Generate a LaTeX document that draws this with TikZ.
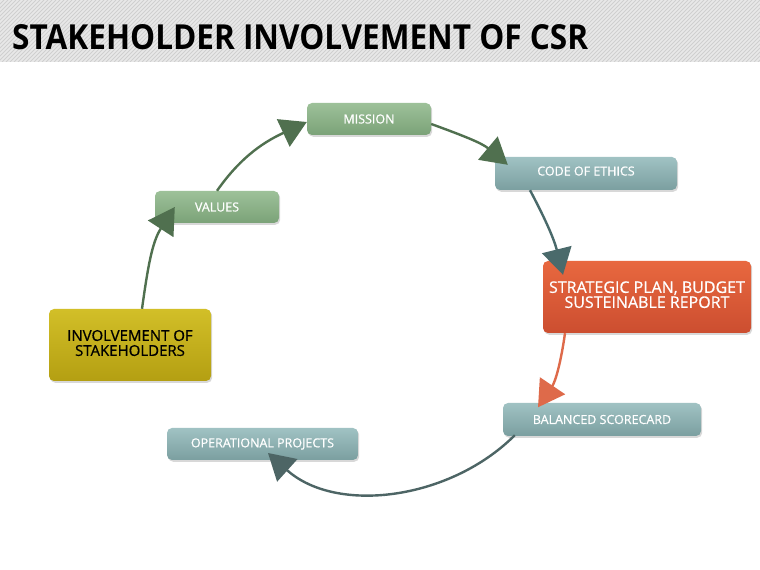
\documentclass[tikz,border=0pt]{standalone}
\usepackage{fontspec}
\setmainfont{Open Sans}
\newfontfamily\boxfont{Open Sans}[FakeBold=0.7]
\usetikzlibrary{arrows.meta,shadows}
\definecolor{bannerbg}{HTML}{E8E8E8}
\definecolor{stripe}{HTML}{CFCFCF}
\definecolor{gtop}{HTML}{9DC199}
\definecolor{gbot}{HTML}{7BA278}
\definecolor{ttop}{HTML}{A0C2C3}
\definecolor{tbot}{HTML}{7B9FA0}
\definecolor{rtop}{HTML}{E8683F}
\definecolor{rbot}{HTML}{CC4E30}
\definecolor{ytop}{HTML}{D2BF28}
\definecolor{ybot}{HTML}{B49F12}
\definecolor{agreen}{HTML}{50704F}
\definecolor{ateal}{HTML}{4A6A6B}
\definecolor{ared}{HTML}{DE6A4A}
\definecolor{agray}{HTML}{4D6565}
\tikzset{
  box/.style={rounded corners=5pt, inner sep=0pt, align=center,
    drop shadow={shadow xshift=1.2pt, shadow yshift=-1.8pt, opacity=0.3},
    font=\boxfont\fontsize{12.5}{14}\selectfont},
  gbox/.style={box, top color=gtop, bottom color=gbot, text=white},
  tbox/.style={box, top color=ttop, bottom color=tbot, text=white},
  rbox/.style={box, top color=rtop, bottom color=rbot, text=white,
    font=\boxfont\fontsize{16}{17}\selectfont},
  ybox/.style={box, top color=ytop, bottom color=ybot, text=black,
    font=\boxfont\fontsize{15}{17}\selectfont},
  conn/.style={line width=2.4pt, -{Triangle[length=26pt,width=30pt]}},
}
\begin{document}
\begin{tikzpicture}[x=1pt,y=1pt]
\useasboundingbox (0,0) rectangle (760,570);
\fill[white] (0,0) rectangle (760,570);
% banner
\begin{scope}
\clip (0,508) rectangle (760,570);
\fill[bannerbg] (0,508) rectangle (760,570);
\foreach \i in {-70,-66,...,760} \draw[stripe, line width=0.9pt] (\i,508) -- ++(62,62);
\end{scope}
\node[anchor=south west, inner sep=0pt] (title) at (12,520)
  {\resizebox{576pt}{25pt}{\bfseries STAKEHOLDER INVOLVEMENT OF CSR}};
% nodes
\node[gbox, minimum width=124pt, minimum height=32pt] (mission) at (369,451) {MISSION};
\node[gbox, minimum width=124pt, minimum height=32pt] (values) at (217,363) {VALUES};
\node[tbox, minimum width=182pt, minimum height=33pt] (code) at (586,396.5) {\raisebox{5pt}{CODE OF ETHICS}};
\node[rbox, minimum width=208pt, minimum height=72pt] (st) at (647,273)
  {\raisebox{7pt}{\begin{tabular}{@{}c@{}}STRATEGIC PLAN, BUDGET\\[-2pt]SUSTEINABLE REPORT\end{tabular}}};
\node[ybox, minimum width=162pt, minimum height=72pt] (inv) at (130,225)
  {\begin{tabular}{@{}c@{}}INVOLVEMENT OF\\[-2pt]STAKEHOLDERS\end{tabular}};
\node[tbox, minimum width=198pt, minimum height=33pt] (bal) at (602,150.5) {BALANCED SCORECARD};
\node[tbox, minimum width=191pt, minimum height=32pt] (oper) at (262.5,126) {OPERATIONAL PROJECTS};
% connectors
\draw[conn, agreen] ([xshift=12pt]inv.north) to[out=82, in=-123] ([xshift=20pt]values.west);
\draw[conn, agreen] (values.north) to[out=55, in=-155] ([yshift=-3pt]mission.west);
\draw[conn, agreen] ([yshift=-5pt]mission.east) to[out=-20, in=140] ([xshift=13pt,yshift=-8pt]code.north west);
\draw[conn, ateal] ([xshift=-56pt]code.south) to[out=-62, in=104] ([xshift=-84pt,yshift=-14pt]st.north);
\draw[conn, ared] ([xshift=-82pt]st.south) to[out=-98, in=56] ([xshift=-64pt,yshift=-4.5pt]bal.north);
\draw[conn, agray] ([xshift=12pt,yshift=1pt]bal.south west) to[out=-135, in=-42, looseness=0.95] ([xshift=5.5pt,yshift=-9pt]oper.center);
\end{tikzpicture}
\end{document}
